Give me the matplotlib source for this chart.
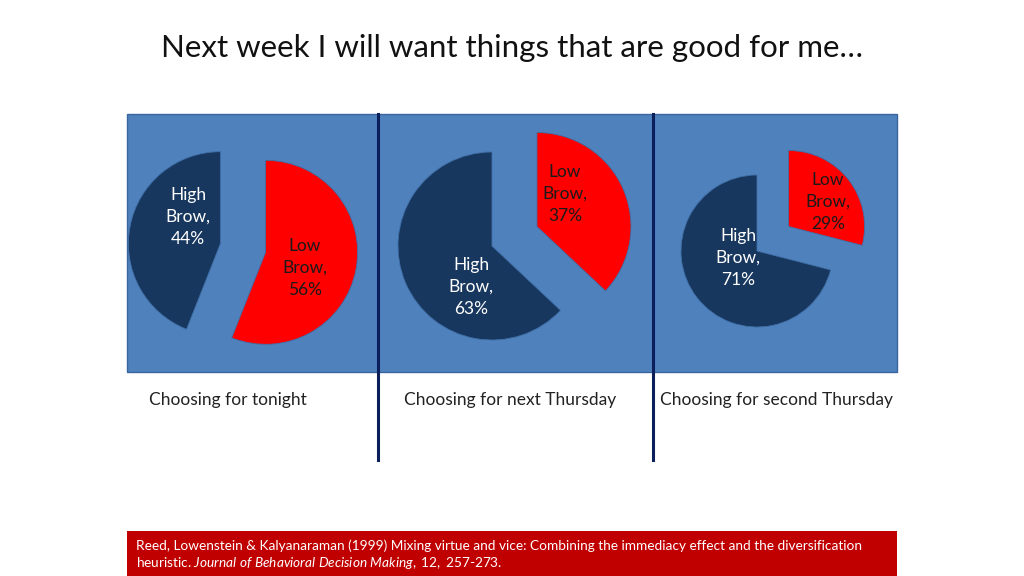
import matplotlib.pyplot as plt
from matplotlib.patches import Rectangle

# ----------------------------
# Data
# ----------------------------
titles = ["Choosing for tonight", "Choosing for next Thursday", "Choosing for second Thursday"]
low_brow = [56, 37, 29]
high_brow = [44, 63, 71]

RED = "#FF0000"
NAVY = "#17375E"
PANEL = "#4F81BD"
LINE = "#0A1F5C"
FONT = "Lato"

plt.rcParams["mathtext.fontset"] = "custom"
plt.rcParams["mathtext.rm"] = "Lato"
plt.rcParams["mathtext.it"] = "Lato:italic"

fig = plt.figure(figsize=(10.24, 5.76), dpi=100)
ax = fig.add_axes([0, 0, 1, 1])
H = 576

def Y(y):
    return H - y

# panel background
ax.add_patch(Rectangle((127, Y(372)), 770, 258, facecolor=PANEL, edgecolor="#3A66A0", lw=1, zorder=0))
for x in (378, 653):
    ax.plot([x, x], [Y(114), Y(460)], color=LINE, lw=2.2, zorder=1)

# pie geometry (pixel coords) per panel; explode given in pixels
centers = [(243, 248), (492, 246), (757, 251)]
radii = [92, 94, 76]
explodes = [(23, 23), (49, 0), (40, 0)]
low_pos = [(305, 268), (565, 194), (828, 202)]
high_pos = [(188, 217), (471, 287), (738, 258)]

for i in range(3):
    cx, cy = centers[i]
    ax.pie([low_brow[i], high_brow[i]], center=(cx, Y(cy)), radius=radii[i],
           colors=[RED, NAVY], startangle=90, counterclock=False,
           explode=explodes[i], frame=True,
           wedgeprops=dict(edgecolor="#3F6EA6", linewidth=0.6))
    ax.text(low_pos[i][0], Y(low_pos[i][1]), f"Low\nBrow,\n{low_brow[i]}%",
            ha="center", va="center", fontsize=12.5, color="#1A1A1A",
            family=FONT, linespacing=1.45, zorder=5)
    ax.text(high_pos[i][0], Y(high_pos[i][1]), f"High\nBrow,\n{high_brow[i]}%",
            ha="center", va="center", fontsize=12.5, color="white",
            family=FONT, linespacing=1.45, zorder=5)

# panel captions
for x, t in zip([228, 510, 777], titles):
    ax.text(x, Y(400), t, ha="center", va="center", fontsize=12.5, family=FONT, color="#222222")

# title
ax.text(512, Y(48), "Next week I will want things that are good for me…", ha="center", va="center",
        fontsize=22.5, family=FONT, color="#111111")

# reference footer
ax.add_patch(Rectangle((127, 0), 770, Y(531), facecolor="#C00000", edgecolor="none"))
ax.text(136, Y(546), "Reed, Lowenstein & Kalyanaraman (1999) Mixing virtue and vice: Combining the immediacy effect and the diversification",
        ha="left", va="center", fontsize=9.8, family=FONT, color="white")
ax.text(136, Y(563), "heuristic. $\\it{Journal\\ of\\ Behavioral\\ Decision\\ Making,\\ 12,}$ 257-273.",
        ha="left", va="center", fontsize=9.8, family=FONT, color="white")

ax.set_xlim(0, 1024)
ax.set_ylim(0, H)
ax.set_aspect("auto")
ax.axis("off")

fig.savefig("out.png", dpi=100, facecolor="white")
